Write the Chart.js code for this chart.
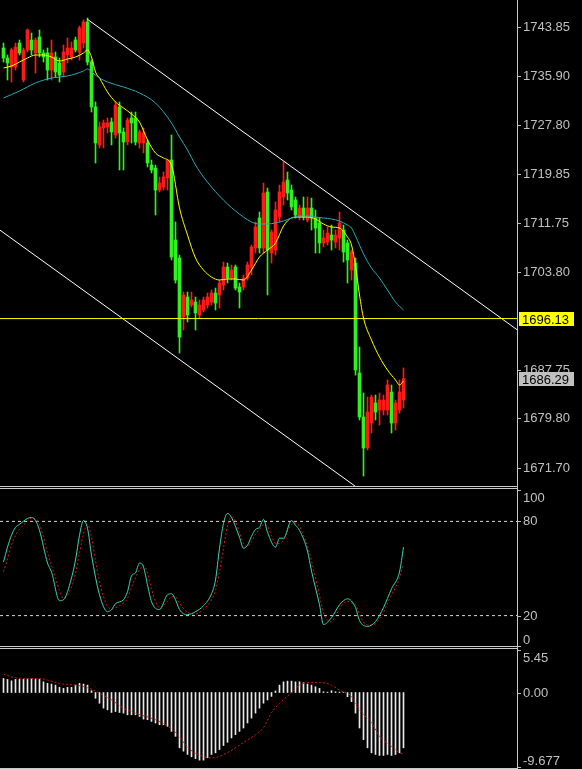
<!DOCTYPE html>
<html lang="en">
<head>
<meta charset="UTF-8">
<title>XAUUSD M5</title>
<script src="https://cdn.jsdelivr.net/npm/chart.js@4.4.0/dist/chart.umd.min.js"></script>
<style>
  html, body { margin:0; padding:0; background:#000; }
  #wrap { position:relative; width:582px; height:769px; background:#000; overflow:hidden; }
  canvas { position:absolute; left:0; }
  .hl { position:absolute; left:0; width:518px; height:1px; background:#c8c8c8; }
  .vl { position:absolute; left:517px; top:0; width:1px; height:769px; background:#c8c8c8; }
</style>
</head>
<body>
<div id="wrap">
  <canvas id="mainChart" width="582" height="486" style="top:0px"></canvas>
  <canvas id="stochChart" width="582" height="157" style="top:490px"></canvas>
  <canvas id="macdChart" width="582" height="118" style="top:650px"></canvas>
  <div class="hl" style="top:486px"></div>
  <div class="hl" style="top:488px"></div>
  <div class="hl" style="top:646px"></div>
  <div class="hl" style="top:648px"></div>
  <div class="hl" style="top:768px"></div>
  <div class="vl"></div>
</div>
<script>
// ---- price data (one candle per index 0..100) ----
var opens = [1740.41,1738.78,1737.30,1737.30,1741.23,1735.18,1740.09,1741.72,1739.60,1742.21,
  1739.60,1739.60,1736.81,1738.94,1737.96,1736.49,1739.27,1738.94,1741.72,1739.76,
  1741.23,1744.67,1738.12,1730.76,1724.54,1727.32,1727.48,1728.30,1726.18,1730.76,
  1726.67,1725.03,1728.96,1728.96,1724.87,1724.87,1724.87,1721.26,1720.77,1717.17,
  1717.66,1719.14,1722.08,1708.99,1706.04,1696.39,1699.66,1698.35,1698.84,1696.71,
  1697.53,1698.35,1698.84,1700.31,1699.99,1701.62,1704.57,1702.77,1704.57,1701.30,
  1701.30,1702.77,1704.41,1707.68,1712.59,1707.68,1716.85,1706.86,1707.35,1712.75,
  1716.03,1718.81,1717.17,1715.54,1712.75,1714.23,1712.26,1714.23,1712.59,1711.77,
  1708.50,1708.66,1709.81,1708.66,1709.32,1710.63,1708.50,1704.08,1705.22,1687.22,
  1680.02,1674.95,1679.04,1682.31,1681.17,1681.17,1681.17,1684.11,1679.04,1681.17,
  1682.80];
var highs = [1741.23,1739.27,1740.41,1741.23,1741.72,1740.41,1743.52,1742.87,1742.05,1743.36,
  1740.09,1740.41,1741.72,1739.76,1738.78,1740.90,1742.05,1741.40,1742.21,1744.02,
  1745.00,1745.32,1738.45,1731.58,1728.30,1728.63,1728.96,1728.96,1731.58,1731.58,
  1727.32,1728.96,1729.94,1729.94,1726.99,1727.32,1725.36,1722.08,1721.26,1719.30,
  1720.12,1722.08,1726.18,1711.94,1706.53,1700.48,1700.48,1700.48,1699.66,1699.17,
  1699.66,1700.31,1700.81,1701.13,1702.44,1705.39,1705.22,1704.90,1704.90,1701.95,
  1703.26,1705.39,1708.17,1711.94,1713.57,1718.32,1717.50,1710.63,1715.21,1717.99,
  1721.76,1720.12,1717.99,1716.03,1714.72,1716.03,1716.03,1715.86,1713.90,1712.59,
  1710.63,1711.12,1711.44,1710.63,1713.57,1711.44,1708.99,1707.35,1706.04,1691.48,
  1683.95,1683.29,1683.62,1683.62,1683.95,1683.62,1686.08,1685.26,1682.80,1686.08,
  1688.04];
var lows = [1738.12,1735.18,1734.85,1736.81,1739.27,1734.85,1739.76,1739.27,1736.32,1738.94,
  1738.12,1735.18,1735.18,1735.67,1734.85,1735.67,1737.96,1738.45,1739.76,1738.45,
  1740.41,1737.63,1729.94,1721.59,1724.05,1724.05,1726.50,1724.54,1725.68,1720.45,
  1720.45,1724.54,1724.87,1724.54,1724.05,1723.23,1720.94,1719.96,1713.08,1716.85,
  1717.17,1717.17,1705.72,1701.95,1690.49,1694.26,1695.57,1698.02,1694.26,1696.22,
  1697.21,1697.86,1698.35,1697.53,1697.86,1700.81,1701.95,1702.44,1700.81,1697.86,
  1700.81,1702.44,1703.26,1706.86,1706.86,1706.86,1699.99,1705.22,1706.53,1711.94,
  1714.72,1715.54,1713.90,1712.59,1712.26,1712.26,1711.94,1710.63,1706.86,1706.86,
  1707.84,1708.17,1707.35,1707.68,1707.35,1705.39,1701.95,1702.44,1686.89,1679.53,
  1670.36,1674.62,1677.40,1679.53,1678.71,1680.35,1680.35,1677.40,1677.89,1680.67,
  1681.49];
var closes = [1738.78,1737.96,1740.09,1740.58,1739.60,1740.09,1743.36,1740.09,1741.72,1739.60,
  1738.94,1736.81,1739.60,1736.49,1736.00,1739.76,1740.41,1740.41,1740.09,1743.69,
  1744.67,1738.12,1730.76,1724.87,1727.48,1728.14,1728.14,1726.67,1731.08,1726.50,
  1725.03,1728.63,1728.14,1725.03,1726.67,1726.50,1721.59,1720.45,1717.17,1718.32,
  1719.30,1722.08,1706.21,1702.44,1693.11,1699.99,1696.71,1699.17,1697.04,1698.35,
  1699.17,1699.66,1700.31,1698.68,1701.95,1704.57,1702.77,1704.08,1701.13,1700.48,
  1702.77,1704.90,1707.84,1711.12,1707.68,1716.68,1707.35,1710.30,1713.90,1716.85,
  1718.48,1716.68,1714.39,1713.08,1714.23,1712.75,1714.23,1712.59,1710.95,1708.50,
  1709.32,1710.13,1708.99,1709.81,1711.77,1707.03,1705.72,1707.03,1687.71,1680.02,
  1674.95,1680.84,1683.29,1680.84,1682.80,1682.80,1685.26,1679.04,1682.31,1684.11,
  1686.29];

// moving averages (candle index, price)
var yellowIdx = [0,2,4,6,8,10,12,14,16,18,20,21,22,23,24,26,28,30,32,34,36,38,40,42,44,46,48,50,52,54,
  56,58,60,62,64,66,68,70,72,74,76,78,80,82,84,86,87,88,89,90,92,94,96,98,99,100];
var yellowMa = [1737.14,1737.47,1738.12,1738.78,1739.27,1739.27,1738.94,1738.29,1738.61,1738.94,
  1739.60,1740.09,1738.94,1736.49,1735.50,1733.21,1731.58,1730.59,1729.61,1728.30,
  1725.36,1723.23,1722.41,1721.26,1714.23,1709.81,1706.04,1704.08,1702.93,1702.44,
  1702.61,1702.61,1702.44,1704.08,1706.21,1707.35,1708.50,1711.28,1712.59,1712.75,
  1712.75,1712.43,1711.61,1711.12,1710.95,1709.48,1708.17,1704.73,1699.99,1696.22,
  1692.62,1689.84,1687.71,1686.08,1685.26,1685.91];
var cyanIdx = [0,4,8,12,16,20,21,22,24,26,30,34,38,42,44,46,48,50,52,54,56,58,60,62,64,66,68,70,72,74,
  76,78,80,82,84,86,87,88,90,92,94,96,98,100];
var cyanMa = [1732.23,1733.38,1734.69,1735.50,1735.83,1736.65,1736.98,1736.49,1735.50,1734.85,
  1734.03,1733.05,1731.41,1728.14,1725.85,1723.72,1721.26,1719.30,1717.66,1716.19,
  1714.88,1713.74,1712.75,1711.94,1711.61,1711.61,1711.77,1712.10,1712.59,1712.92,
  1712.92,1712.75,1712.59,1712.43,1712.10,1711.44,1710.95,1709.64,1706.70,1704.41,
  1702.77,1700.81,1698.84,1697.53];

// drawn objects: two channel lines and a horizontal level
var upperLineIdx = [21, 128.4];
var upperLinePrice = [1745.1, 1694.3];
var lowerLineIdx = [-0.875, 128.4];
var lowerLinePrice = [1710.6, 1649.6];
var hLineLevel = 1696.13;

// stochastic
var stochIdx = [0,1,2,3,4,6,7,8,9,11,12,14,15,17,18,19,20,21,22,24,26,27,28,30,31,32,33,34,35,36,
  37,39,41,42,43,44,46,48,50,52,53,54,55,56,57,59,60,61,62,63,64,65,66,68,69,70,72,73,74,76,
  77,79,80,82,84,85,86,88,89,91,93,95,97,99,100];
var stochK = [54.1,63.6,71.2,76.2,78.1,81.9,82.5,80.6,74.3,53.5,47.8,29.5,30.1,44.0,55.4,71.2,80.6,75.6,58.5,33.3,
  22.5,23.8,27.6,30.1,35.2,45.3,47.2,53.5,50.9,39.6,28.8,23.8,33.3,33.9,30.1,23.8,20.6,22.5,26.3,33.9,
  42.7,62.9,78.7,85.1,82.5,69.9,62.9,64.8,70.5,74.9,76.2,81.3,73.1,63.6,69.3,69.3,80.6,77.5,74.3,61.1,
  48.4,26.9,14.3,18.7,26.9,29.5,30.7,25.1,16.8,13.1,16.2,25.1,37.1,47.8,63.6];
var sigIdx = [0,1,2,3,4,6,7,8,9,10,11,12,13,14,15,16,17,18,19,20,21,22,23,24,25,26,27,28,30,31,
  32,33,34,35,36,37,38,39,41,42,43,44,46,48,50,52,53,54,55,56,57,58,59,60,61,62,63,64,65,66,
  67,68,69,70,71,72,73,74,75,76,77,78,79,80,81,82,83,84,85,86,87,88,89,90,91,92,93,94,95,96,
  97,98,99,100];
var stochD = [48,56,65,71,75,80,82,81.5,78,70,60,52,44,36,31,33,38,47,60,72,78,70,55,42,32,26,24,25,28,31,
  38,44,49,52,47,37,29,25,29,32,32,28,22,21,24,30,36,48,63,77,83,80,73,66,64,67,72,75,78,77,
  71,66,66,68,74,78,79,77,71,64,55,44,33,22,17,16,20,24,28,29,28,27,21,16,14,14,15,18,22,28,
  33,38,44,53];
var stochLevels = [80, 20];

// MACD
var macdHist = [1.80,1.68,1.50,1.68,1.68,1.68,1.68,1.80,1.68,1.68,
  1.37,1.17,1.08,0.95,0.66,0.53,0.66,0.66,0.95,1.17,
  1.08,0.95,0.23,-0.74,-1.37,-2.00,-2.22,-2.56,-2.44,-2.56,
  -2.64,-2.86,-2.86,-2.86,-3.07,-3.41,-3.49,-3.71,-3.91,-4.13,
  -4.13,-4.34,-4.98,-5.62,-7.09,-7.52,-7.94,-8.24,-8.49,-8.67,
  -8.67,-8.36,-7.94,-7.73,-7.31,-6.80,-6.38,-5.82,-5.40,-4.98,
  -4.55,-3.91,-3.28,-2.64,-2.00,-1.37,-0.95,-0.50,0.20,0.95,
  1.37,1.46,1.46,1.37,1.37,1.25,1.08,0.95,0.74,0.53,
  0.10,0.05,0.23,0.10,0.05,0.00,-0.53,-1.17,-2.64,-4.55,
  -6.04,-7.09,-7.73,-7.94,-8.07,-8.07,-7.94,-8.07,-7.94,-7.73,
  -7.09];
var macdSigIdx = [0,2,5,9,11,14,18,21,24,27,30,33,38,41,43,46,48,50,52,56,
  60,63,65,67,69,72,74,77,79,82,84,87,89,92,94,97,99,100];
var macdSig = [2.35,2.0,1.80,1.80,1.59,1.17,0.95,0.6,-0.1,-0.95,-2.0,-2.64,-3.49,-4.3,-5.1,-7.0,-7.8,-8.2,-8.4,-7.7,
  -6.4,-5.4,-4.5,-2.6,-1.4,0.0,0.95,1.3,1.3,0.95,0.3,-0.5,-2.2,-3.9,-5.6,-6.9,-7.7,-7.9];

// axis labels
var priceTicks = [1743.85,1735.90,1727.80,1719.85,1711.75,1703.80,1687.75,1679.80,1671.70];
var stochTicks = [100, 80, 20, 0];
var stochTickLabels = ['100', '80', '20', '0'];
var macdTicks = [5.45, 0, -9.677];
var macdTickLabels = ['5.45', '0.00', '-9.677'];

var XMIN = -0.875, XMAX = 128.375;
var FONT = '13px "Liberation Sans", Arial, sans-serif';
var UP = '#ff1a1a', DOWN = '#30f020';

function pts(xs, ys) {
  return xs.map(function (x, i) { return {x: x, y: ys[i]}; });
}
function idxPts(ys) {
  return ys.map(function (v, i) { return {x: i, y: v}; });
}

// draws tick marks, labels and price tags to the right of the plot
var rightAxis = {
  id: 'rightAxis',
  afterDatasetsDraw: function (chart, args, o) {
    var ctx = chart.ctx, a = chart.chartArea, y = chart.scales.y;
    ctx.save();
    ctx.font = FONT;
    ctx.lineWidth = 1;
    ctx.strokeStyle = '#c0c0c0';
    ctx.fillStyle = '#c0c0c0';
    ctx.textAlign = 'left';
    o.ticks.forEach(function (v, i) {
      var py = Math.round(y.getPixelForValue(v));
      var ty = py, base = 'middle';
      if (v === y.max) { base = 'top'; ty = py + 2; }
      else if (v === y.min) { base = 'bottom'; ty = py; }
      ctx.beginPath();
      ctx.moveTo(a.right, Math.min(py, a.bottom - 1) + 0.5);
      ctx.lineTo(a.right + 4, Math.min(py, a.bottom - 1) + 0.5);
      ctx.stroke();
      ctx.textBaseline = base;
      ctx.fillText(o.labels[i], a.right + 6, ty);
    });
    (o.tags || []).forEach(function (t) {
      var py = Math.round(y.getPixelForValue(t.value));
      ctx.fillStyle = t.bg;
      ctx.fillRect(a.right + 2, py - 7, 55, 14);
      ctx.fillStyle = t.fg;
      ctx.textBaseline = 'middle';
      ctx.fillText(t.value.toFixed(2), a.right + 5, py + 1);
    });
    ctx.restore();
  }
};

function baseOptions(ymin, ymax, axisOpts) {
  return {
    responsive: false,
    animation: false,
    devicePixelRatio: 1,
    events: [],
    layout: {padding: {left: 0, right: 65, top: 0, bottom: 0}},
    scales: {
      x: {type: 'linear', min: XMIN, max: XMAX, offset: false, display: false},
      y: {type: 'linear', min: ymin, max: ymax, display: false}
    },
    plugins: {legend: {display: false}, tooltip: {enabled: false}, rightAxis: axisOpts}
  };
}

function lineSet(data, color, extra) {
  var d = {type: 'line', data: data, borderColor: color, borderWidth: 1, pointRadius: 0,
           fill: false, tension: 0, order: 0};
  for (var k in extra) d[k] = extra[k];
  return d;
}

// ---- main price chart ----
var candleColors = opens.map(function (o, i) { return closes[i] > o ? UP : DOWN; });
var wickData = lows.map(function (l, i) { return {x: i, y: [l, highs[i]]}; });
var bodyData = opens.map(function (o, i) { return {x: i, y: [o, closes[i]]}; });

new Chart(document.getElementById('mainChart'), {
  type: 'bar',
  data: {
    datasets: [
      {data: wickData, backgroundColor: candleColors, barThickness: 1, maxBarThickness: 1,
       grouped: false, order: 3},
      {data: bodyData, backgroundColor: candleColors, barThickness: 3, maxBarThickness: 3,
       minBarLength: 1, grouped: false, order: 2},
      lineSet(pts(cyanIdx, cyanMa), '#2fa8b4', {cubicInterpolationMode: 'monotone'}),
      lineSet(pts(yellowIdx, yellowMa), '#ffff00', {cubicInterpolationMode: 'monotone'}),
      lineSet([{x: XMIN, y: hLineLevel}, {x: XMAX, y: hLineLevel}], '#ffff00'),
      lineSet(pts(upperLineIdx, upperLinePrice), '#ffffff'),
      lineSet(pts(lowerLineIdx, lowerLinePrice), '#ffffff')
    ]
  },
  options: baseOptions(1668.73, 1748.27, {
    ticks: priceTicks,
    labels: priceTicks.map(function (v) { return v.toFixed(2); }),
    tags: [{value: hLineLevel, bg: '#ffff00', fg: '#000000'},
           {value: closes[closes.length - 1], bg: '#c0c0c0', fg: '#000000'}]
  }),
  plugins: [rightAxis]
});

// ---- stochastic ----
new Chart(document.getElementById('stochChart'), {
  type: 'line',
  data: {
    datasets: stochLevels.map(function (lv) {
      return lineSet([{x: XMIN, y: lv}, {x: XMAX, y: lv}], '#d8d8d8', {borderDash: [3, 3], order: 2});
    }).concat([
      lineSet(pts(sigIdx, stochD), '#d01818', {borderDash: [2, 2], cubicInterpolationMode: 'monotone', order: 1}),
      lineSet(pts(stochIdx, stochK), '#3fd6b4', {cubicInterpolationMode: 'monotone', order: 0})
    ])
  },
  options: baseOptions(0, 100, {ticks: stochTicks, labels: stochTickLabels}),
  plugins: [rightAxis]
});

// ---- MACD ----
new Chart(document.getElementById('macdChart'), {
  type: 'bar',
  data: {
    datasets: [
      {data: idxPts(macdHist), backgroundColor: '#e8e8e8', barThickness: 1, maxBarThickness: 1, order: 1},
      lineSet(pts(macdSigIdx, macdSig), '#d01818', {borderDash: [2, 2], cubicInterpolationMode: 'monotone', order: 0})
    ]
  },
  options: baseOptions(-9.677, 5.45, {ticks: macdTicks, labels: macdTickLabels}),
  plugins: [rightAxis]
});
</script>
</body>
</html>
